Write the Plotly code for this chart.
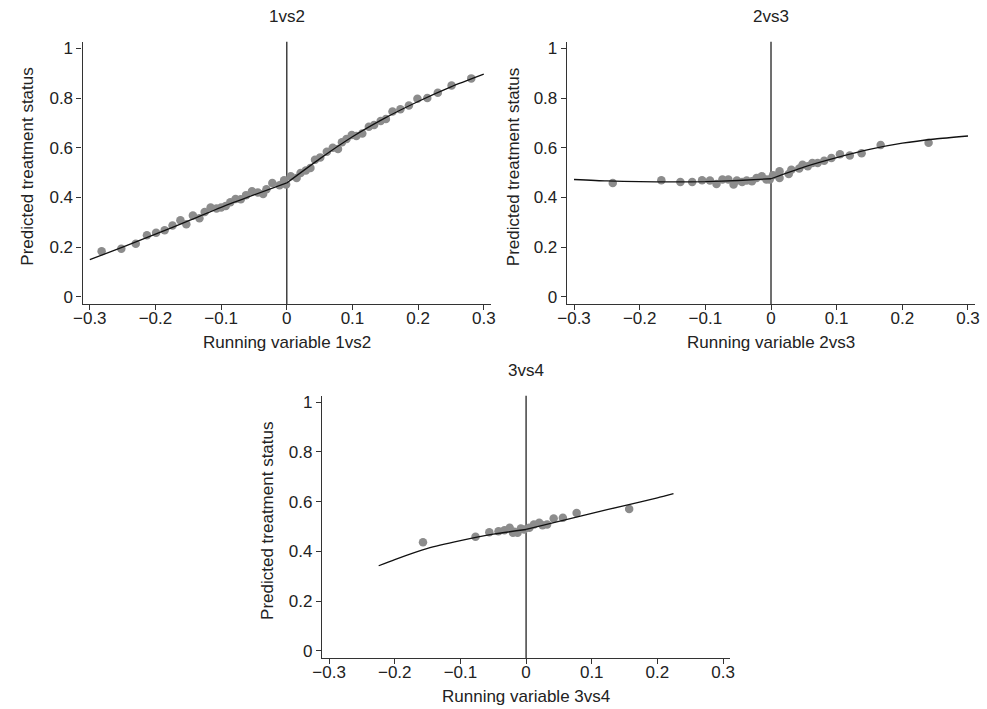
import plotly.graph_objects as go

# ---------------- data ----------------
titles = ["1vs2", "2vs3", "3vs4"]
x_titles = ["Running variable 1vs2", "Running variable 2vs3", "Running variable 3vs4"]
y_title = "Predicted treatment status"
x_ticks = [-0.3, -0.2, -0.1, 0, 0.1, 0.2, 0.3]
x_ticktext = ["\u22120.3", "\u22120.2", "\u22120.1", "0", "0.1", "0.2", "0.3"]
y_ticks = [0, 0.2, 0.4, 0.6, 0.8, 1]
y_ticktext = ["0", "0.2", "0.4", "0.6", "0.8", "1"]

p1_x = [-0.282, -0.252, -0.230, -0.213, -0.199, -0.186, -0.174, -0.162, -0.153, -0.143,
        -0.133, -0.125, -0.116, -0.107, -0.100, -0.093, -0.086, -0.078, -0.070, -0.062,
        -0.053, -0.044, -0.036, -0.031, -0.022, -0.011, -0.004, -0.001, 0.006, 0.015,
        0.021, 0.029, 0.036, 0.043, 0.051, 0.061, 0.070, 0.078, 0.084, 0.091,
        0.099, 0.106, 0.115, 0.125, 0.133, 0.143, 0.151, 0.161, 0.173, 0.186,
        0.199, 0.214, 0.230, 0.251, 0.281]
p1_y = [0.183, 0.193, 0.213, 0.247, 0.258, 0.268, 0.287, 0.308, 0.292, 0.327,
        0.316, 0.341, 0.359, 0.355, 0.359, 0.365, 0.380, 0.393, 0.392, 0.409,
        0.425, 0.420, 0.414, 0.433, 0.458, 0.449, 0.469, 0.452, 0.485, 0.478,
        0.498, 0.508, 0.518, 0.551, 0.561, 0.584, 0.600, 0.595, 0.622, 0.635,
        0.651, 0.647, 0.657, 0.684, 0.691, 0.707, 0.715, 0.746, 0.755, 0.770,
        0.797, 0.800, 0.821, 0.850, 0.879]
fit1_left_x = [-0.3, -0.25, -0.2, -0.15, -0.1, -0.05, 0]
fit1_left_y = [0.149, 0.200, 0.252, 0.305, 0.360, 0.410, 0.458]
fit1_right_x = [0, 0.05, 0.1, 0.15, 0.2, 0.25, 0.3]
fit1_right_y = [0.458, 0.555, 0.644, 0.720, 0.786, 0.845, 0.896]

p2_x = [-0.241, -0.167, -0.138, -0.120, -0.105, -0.093, -0.083, -0.074, -0.065, -0.057,
        -0.052, -0.044, -0.037, -0.029, -0.022, -0.014, -0.007, -0.002, 0.003, 0.013,
        0.013, 0.027, 0.031, 0.043, 0.048, 0.056, 0.063, 0.071, 0.081, 0.092,
        0.105, 0.120, 0.138, 0.167, 0.240]
p2_y = [0.458, 0.469, 0.462, 0.462, 0.469, 0.468, 0.454, 0.472, 0.472, 0.452,
        0.468, 0.462, 0.468, 0.465, 0.478, 0.485, 0.472, 0.472, 0.489, 0.505,
        0.478, 0.494, 0.511, 0.516, 0.531, 0.525, 0.538, 0.538, 0.547, 0.558,
        0.574, 0.569, 0.578, 0.611, 0.620]
fit2_left_x = [-0.3, -0.25, -0.2, -0.15, -0.1, -0.05, 0]
fit2_left_y = [0.472, 0.466, 0.463, 0.462, 0.463, 0.468, 0.475]
fit2_right_x = [0, 0.05, 0.1, 0.15, 0.2, 0.25, 0.3]
fit2_right_y = [0.475, 0.522, 0.560, 0.593, 0.618, 0.635, 0.647]

p3_x = [-0.157, -0.077, -0.056, -0.042, -0.033, -0.025, -0.020, -0.013, -0.008, -0.018,
        -0.003, 0.005, 0.012, 0.020, 0.025, 0.032, 0.042, 0.056, 0.077, 0.157]
p3_y = [0.437, 0.459, 0.477, 0.481, 0.485, 0.495, 0.475, 0.475, 0.492, 0.479,
        0.488, 0.495, 0.508, 0.515, 0.505, 0.508, 0.532, 0.535, 0.554, 0.570]
fit3_left_x = [-0.2245, -0.2, -0.15, -0.1, -0.05, 0]
fit3_left_y = [0.342, 0.367, 0.412, 0.443, 0.469, 0.488]
fit3_right_x = [0, 0.05, 0.1, 0.15, 0.2, 0.2245]
fit3_right_y = [0.488, 0.521, 0.553, 0.584, 0.615, 0.632]

# ---------------- layout geometry ----------------
W, H = 987, 709
FONT = "Liberation Sans, Arial, Helvetica, sans-serif"
TXT = "#222222"
AX = "#333333"
DOT = "#8c8c8c"
FS = 17

# panel pixel boxes: (left, top, right, bottom)
boxes = [(73.7, 39.2, 488.4, 303.5),
         (565.4, 39.2, 980.1, 303.5),
         (316.7, 396.2, 731.4, 660.5)]
ytitle_x = [18, 512, 262]

def dx(px):
    return px / W

def dy(py):
    return 1 - py / H

panels = [
    (p1_x, p1_y, fit1_left_x, fit1_left_y, fit1_right_x, fit1_right_y),
    (p2_x, p2_y, fit2_left_x, fit2_left_y, fit2_right_x, fit2_right_y),
    (p3_x, p3_y, fit3_left_x, fit3_left_y, fit3_right_x, fit3_right_y),
]

fig = go.Figure()
annotations = []
shapes = []
for i, (px, py, flx, fly, frx, fry) in enumerate(panels):
    n = "" if i == 0 else str(i + 1)
    xa, ya = "x" + n, "y" + n
    fig.add_trace(go.Scatter(x=px, y=py, mode="markers", xaxis=xa, yaxis=ya,
                             marker=dict(color=DOT, size=8.5, line=dict(width=0)),
                             showlegend=False, hoverinfo="skip"))
    for lx, ly in ((flx, fly), (frx, fry)):
        fig.add_trace(go.Scatter(x=lx, y=ly, mode="lines", xaxis=xa, yaxis=ya,
                                 line=dict(color="#111111", width=1.3, shape="spline", smoothing=0.6),
                                 showlegend=False, hoverinfo="skip"))
    l, t, r, b = boxes[i]
    common = dict(showline=True, linecolor=AX, linewidth=1.2, ticks="outside", ticklen=5,
                  tickwidth=1.2, tickcolor=AX, showgrid=False, zeroline=False,
                  tickfont=dict(family=FONT, size=FS, color=TXT))
    fig.update_layout(**{
        "xaxis" + n: dict(domain=[dx(l), dx(r)], range=[-0.311, 0.311], anchor=ya,
                          tickvals=x_ticks, ticktext=x_ticktext, ticklabelstandoff=-6,
                          **common),
        "yaxis" + n: dict(domain=[dy(b), dy(t)], range=[-0.029, 1.026], anchor=xa,
                          tickvals=y_ticks, ticktext=y_ticktext, **common),
    })
    # vertical line at the threshold
    shapes.append(dict(type="line", xref=xa, yref=ya + " domain", x0=0, x1=0, y0=0, y1=1,
                       line=dict(color="#333333", width=1.4), layer="below"))
    cx = l + (r - l) * 0.311 / 0.622
    annotations.append(dict(text=titles[i], x=dx(cx), y=dy(t - 26), xref="paper", yref="paper",
                            showarrow=False, xanchor="center", yanchor="middle",
                            font=dict(family=FONT, size=FS, color=TXT)))
    annotations.append(dict(text=x_titles[i], x=dx(cx), y=dy(b + 39), xref="paper", yref="paper",
                            showarrow=False, xanchor="center", yanchor="middle",
                            font=dict(family=FONT, size=FS, color=TXT)))
    annotations.append(dict(text=y_title, x=dx(ytitle_x[i]), y=dy((t + b) / 2 - 6), xref="paper",
                            yref="paper", showarrow=False, textangle=-90,
                            xanchor="center", yanchor="middle",
                            font=dict(family=FONT, size=FS, color=TXT)))

fig.update_layout(width=W, height=H, margin=dict(l=0, r=0, t=0, b=0),
                  paper_bgcolor="white", plot_bgcolor="white",
                  annotations=annotations, shapes=shapes, showlegend=False)
fig.write_html("out.html")
